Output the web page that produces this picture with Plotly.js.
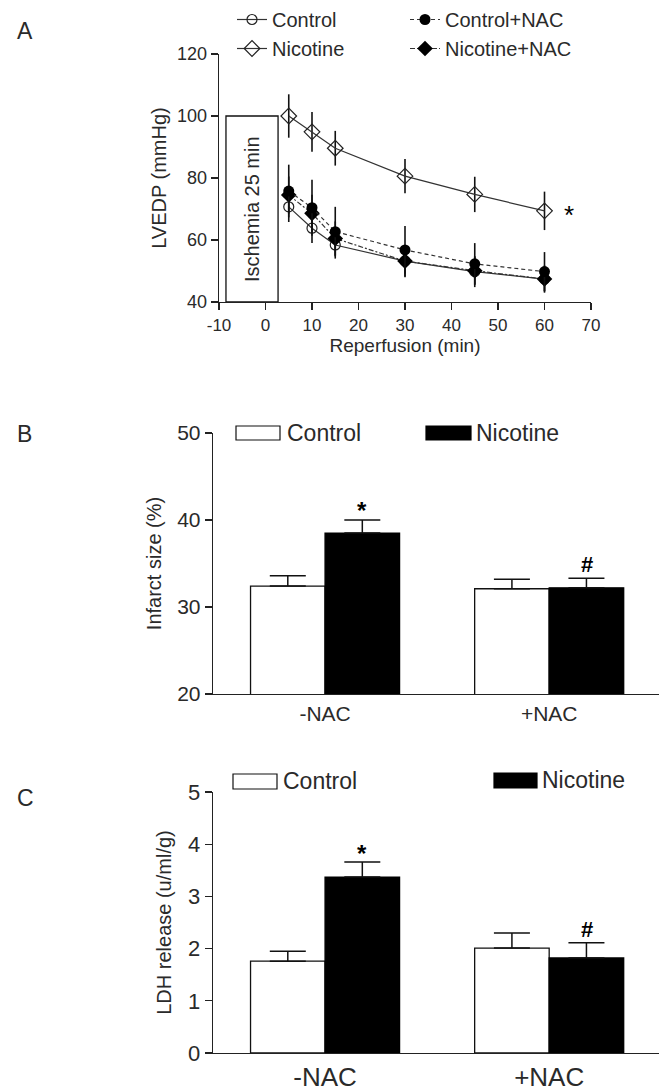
<!DOCTYPE html>
<html>
<head>
<meta charset="utf-8">
<script src="https://cdn.plot.ly/plotly-3.0.1.min.js"></script>
<style>html,body{margin:0;padding:0;background:#fff;}#chart{width:666px;height:1092px;}</style>
</head>
<body>
<div id="chart"></div>
<script>
// ---------- Panel A data ----------
const time = [5, 10, 15, 30, 45, 60];
const control = [70.7, 63.8, 58.4, 53.2, 49.8, 47.4];
const controlErr = [4.9, 4.8, 4.4, 5.2, 5.0, 4.4];
const nicotine = [100, 94.9, 89.6, 80.6, 74.7, 69.4];
const nicotineErr = [7.0, 6.4, 5.6, 5.5, 5.7, 6.2];
const controlNac = [75.8, 70.4, 62.7, 56.8, 52.3, 49.8];
const controlNacErr = [8.5, 9.0, 8.0, 7.7, 6.7, 6.3];
const nicotineNac = [74.5, 68.6, 60.5, 53.2, 50.1, 47.4];
const nicotineNacErr = [6.0, 6.0, 5.5, 5.0, 4.5, 4.0];
const aTicks = [-10, 0, 10, 20, 30, 40, 50, 60, 70];
const aYTicks = [40, 60, 80, 100, 120];

// ---------- Panel B / C data ----------
const groups = ['-NAC', '+NAC'];
const infarctControl = [32.4, 32.1];
const infarctControlErr = [1.2, 1.1];
const infarctNicotine = [38.5, 32.2];
const infarctNicotineErr = [1.5, 1.1];
const ldhControl = [1.76, 2.01];
const ldhControlErr = [0.19, 0.29];
const ldhNicotine = [3.37, 1.82];
const ldhNicotineErr = [0.29, 0.29];

const FONT = 'Liberation Sans, Arial, sans-serif';
const TXT = '#2a2a2a';
const W = 666, H = 1092;
const px = v => v / W;
const py = v => 1 - v / H;

const lineCol = '#333';
function errs(arr) { return {type: 'data', array: arr, visible: true, color: '#111', thickness: 1.6, width: 0}; }

const traces = [
  {x: time, y: control, name: 'Control', type: 'scatter', mode: 'lines+markers',
   line: {color: lineCol, width: 1.2}, marker: {symbol: 'circle-open', size: 10, color: '#222', line: {width: 1.2}},
   error_y: errs(controlErr), legend: 'legend', legendgroup: 'c', xaxis: 'x', yaxis: 'y'},
  {x: time, y: nicotine, name: 'Nicotine', type: 'scatter', mode: 'lines+markers',
   line: {color: lineCol, width: 1.2}, marker: {symbol: 'diamond-open', size: 12, color: '#222', line: {width: 1.2}},
   error_y: errs(nicotineErr), legend: 'legend', legendgroup: 'n', xaxis: 'x', yaxis: 'y'},
  {x: time, y: nicotineNac, name: 'Nicotine+NAC', type: 'scatter', mode: 'lines+markers',
   line: {color: lineCol, width: 1.2, dash: '5px,2px,2px,2px'}, marker: {symbol: 'diamond', size: 12, color: '#000'},
   error_y: errs(nicotineNacErr), legend: 'legend2', legendgroup: 'nn', xaxis: 'x', yaxis: 'y'},
  {x: time, y: controlNac, name: 'Control+NAC', type: 'scatter', mode: 'lines+markers',
   line: {color: lineCol, width: 1.2, dash: '4px,3px'}, marker: {symbol: 'circle', size: 11, color: '#000'},
   error_y: errs(controlNacErr), legend: 'legend2', legendgroup: 'cn', xaxis: 'x', yaxis: 'y'},

  {x: groups, y: infarctControl, name: 'Control', type: 'bar', showlegend: false,
   marker: {color: '#fff', line: {color: '#111', width: 1.3}},
   error_y: {type: 'data', symmetric: false, array: infarctControlErr, arrayminus: [0, 0], color: '#111', thickness: 1.5, width: 18},
   xaxis: 'x2', yaxis: 'y2'},
  {x: groups, y: infarctNicotine, name: 'Nicotine', type: 'bar', showlegend: false,
   marker: {color: '#000', line: {color: '#000', width: 1.3}},
   error_y: {type: 'data', symmetric: false, array: infarctNicotineErr, arrayminus: [0, 0], color: '#111', thickness: 1.5, width: 18},
   xaxis: 'x2', yaxis: 'y2'},

  {x: groups, y: ldhControl, name: 'Control', type: 'bar', showlegend: false,
   marker: {color: '#fff', line: {color: '#111', width: 1.3}},
   error_y: {type: 'data', symmetric: false, array: ldhControlErr, arrayminus: [0, 0], color: '#111', thickness: 1.5, width: 18},
   xaxis: 'x3', yaxis: 'y3'},
  {x: groups, y: ldhNicotine, name: 'Nicotine', type: 'bar', showlegend: false,
   marker: {color: '#000', line: {color: '#000', width: 1.3}},
   error_y: {type: 'data', symmetric: false, array: ldhNicotineErr, arrayminus: [0, 0], color: '#111', thickness: 1.5, width: 18},
   xaxis: 'x3', yaxis: 'y3'}
];

const axBase = {showgrid: false, zeroline: false, showline: true, linecolor: '#222', linewidth: 1.3,
  ticks: 'outside', tickcolor: '#222', tickwidth: 1.3, ticklen: 7, mirror: false, fixedrange: true};

// offset of each bar centre within a group (half a bar width), used only to place the significance marks
const barOffset = 0.1665;

const layout = {
  width: W, height: H, margin: {l: 0, r: 0, t: 0, b: 0},
  paper_bgcolor: '#fff', plot_bgcolor: 'rgba(0,0,0,0)',
  font: {family: FONT, color: TXT, size: 18},
  barmode: 'group', bargap: 0.335, bargroupgap: 0,
  xaxis: Object.assign({}, axBase, {domain: [px(219), px(591)], range: [-10, 70], tickvals: aTicks,
    ticktext: aTicks.map(String), tickfont: {size: 17}, anchor: 'y',
    title: {text: 'Reperfusion (min)', font: {size: 19}, standoff: 3}}),
  yaxis: Object.assign({}, axBase, {domain: [py(302), py(54)], range: [40, 120], tickvals: aYTicks,
    tickfont: {size: 18}, anchor: 'x',
    title: {text: 'LVEDP (mmHg)', font: {size: 20}, standoff: 5}}),
  xaxis2: Object.assign({}, axBase, {domain: [px(213), px(659)], range: [-0.5, 1.49], ticks: '',
    tickfont: {size: 21}, anchor: 'y2', type: 'category'}),
  yaxis2: Object.assign({}, axBase, {domain: [py(694), py(433)], range: [20, 50], dtick: 10,
    tickfont: {size: 21}, anchor: 'x2',
    title: {text: 'Infarct size (%)', font: {size: 20}, standoff: 10}}),
  xaxis3: Object.assign({}, axBase, {domain: [px(213), px(659)], range: [-0.5, 1.49], ticks: '',
    tickfont: {size: 26}, anchor: 'y3', type: 'category'}),
  yaxis3: Object.assign({}, axBase, {domain: [py(1053), py(792)], range: [0, 5], dtick: 1,
    tickfont: {size: 22}, anchor: 'x3',
    title: {text: 'LDH release (u/ml/g)', font: {size: 20}, standoff: 11}}),
  legend: {x: px(232), y: 1, xanchor: 'left', yanchor: 'top', bgcolor: 'rgba(0,0,0,0)',
    font: {size: 20, family: FONT, color: TXT}, tracegroupgap: 6, traceorder: 'normal'},
  legend2: {x: px(405), y: 1, xanchor: 'left', yanchor: 'top', bgcolor: 'rgba(0,0,0,0)',
    font: {size: 20, family: FONT, color: TXT}, tracegroupgap: 4, traceorder: 'reversed'},
  shapes: [
    {type: 'rect', xref: 'x', yref: 'y', x0: -8.5, x1: 2.7, y0: 40, y1: 100, line: {color: '#111', width: 1.3}, fillcolor: 'rgba(0,0,0,0)'},
    // bar legends (panel B)
    {type: 'rect', xref: 'paper', yref: 'paper', x0: px(236), x1: px(280), y0: py(440), y1: py(426), line: {color: '#111', width: 1.2}, fillcolor: '#fff'},
    {type: 'rect', xref: 'paper', yref: 'paper', x0: px(426), x1: px(471), y0: py(440), y1: py(426), line: {color: '#000', width: 1.2}, fillcolor: '#000'},
    // bar legends (panel C)
    {type: 'rect', xref: 'paper', yref: 'paper', x0: px(233), x1: px(277), y0: py(789), y1: py(774), line: {color: '#111', width: 1.2}, fillcolor: '#fff'},
    {type: 'rect', xref: 'paper', yref: 'paper', x0: px(494), x1: px(537), y0: py(788), y1: py(773), line: {color: '#000', width: 1.2}, fillcolor: '#000'}
  ],
  annotations: [
    {text: 'A', xref: 'paper', yref: 'paper', x: px(15), y: py(31), yanchor: 'middle', showarrow: false, font: {size: 23, color: TXT}},
    {text: 'B', xref: 'paper', yref: 'paper', x: px(15), y: py(434), yanchor: 'middle', showarrow: false, font: {size: 23, color: TXT}},
    {text: 'C', xref: 'paper', yref: 'paper', x: px(15), y: py(798), yanchor: 'middle', showarrow: false, font: {size: 23, color: TXT}},
    {text: 'Ischemia 25 min', xref: 'x', yref: 'y', x: -2.9, y: 70, textangle: -90, showarrow: false, font: {size: 20, color: TXT}},
    {text: '*', xref: 'x', yref: 'y', x: 65.3, y: nicotine[5], yanchor: 'middle', showarrow: false, font: {size: 26, color: '#000'}, yshift: -4},
    {text: 'Control', xref: 'paper', yref: 'paper', x: px(285), y: py(433), xanchor: 'left', yanchor: 'middle', showarrow: false, font: {size: 23, color: TXT}},
    {text: 'Nicotine', xref: 'paper', yref: 'paper', x: px(474), y: py(433), xanchor: 'left', yanchor: 'middle', showarrow: false, font: {size: 23, color: TXT}},
    {text: 'Control', xref: 'paper', yref: 'paper', x: px(281), y: py(781), xanchor: 'left', yanchor: 'middle', showarrow: false, font: {size: 23, color: TXT}},
    {text: 'Nicotine', xref: 'paper', yref: 'paper', x: px(540), y: py(780), xanchor: 'left', yanchor: 'middle', showarrow: false, font: {size: 23, color: TXT}},
    {text: '<b>*</b>', xref: 'x2', yref: 'y2', x: barOffset, y: infarctNicotine[0] + infarctNicotineErr[0], yanchor: 'bottom', showarrow: false, font: {size: 24, color: '#000'}, yshift: -6},
    {text: '<b>#</b>', xref: 'x2', yref: 'y2', x: 1 + barOffset, y: infarctNicotine[1] + infarctNicotineErr[1], yanchor: 'bottom', showarrow: false, font: {size: 22, color: '#000'}, yshift: -1},
    {text: '<b>*</b>', xref: 'x3', yref: 'y3', x: barOffset, y: ldhNicotine[0] + ldhNicotineErr[0], yanchor: 'bottom', showarrow: false, font: {size: 24, color: '#000'}, yshift: -7},
    {text: '<b>#</b>', xref: 'x3', yref: 'y3', x: 1 + barOffset, y: ldhNicotine[1] + ldhNicotineErr[1], yanchor: 'bottom', showarrow: false, font: {size: 22, color: '#000'}, yshift: -1}
  ]
};

Plotly.newPlot('chart', traces, layout, {staticPlot: true, displayModeBar: false});
</script>
</body>
</html>
